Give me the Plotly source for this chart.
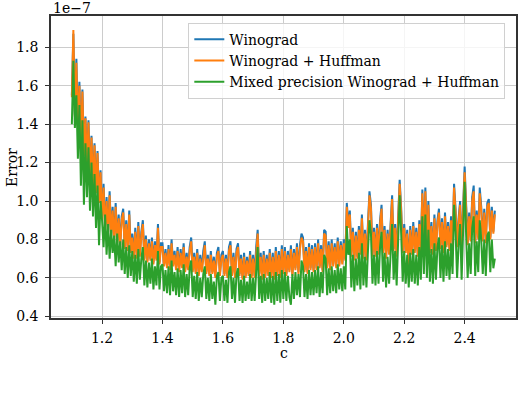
import numpy as np
import plotly.graph_objects as go

# error vs c, sampled every 0.005 from 1.1 to 2.5 (values in units of 1e-7)
winograd = [
    1.55, 1.87, 1.45, 1.74, 1.40, 1.62, 1.30, 1.58, 1.24, 1.44, 1.20, 1.42, 1.12, 1.34, 1.08, 1.30, 1.05, 1.26, 1.00, 1.16,
    0.92, 1.09, 0.86, 1.02, 0.84, 1.05, 0.83, 0.97, 0.80, 0.99, 0.79, 0.93, 0.77, 0.92, 0.96, 0.76, 0.90, 0.75, 0.95, 0.74,
    0.83, 0.72, 0.86, 0.71, 0.89, 0.72, 0.84, 0.90, 0.70, 0.82, 0.69, 0.80, 0.70, 0.81, 0.68, 0.79, 0.70, 0.88, 0.68, 0.78,
    0.78, 0.67, 0.75, 0.66, 0.77, 0.65, 0.80, 0.67, 0.74, 0.65, 0.76, 0.64, 0.75, 0.66, 0.78, 0.64, 0.73, 0.65, 0.76, 0.81,
    0.64, 0.73, 0.63, 0.75, 0.62, 0.72, 0.64, 0.74, 0.79, 0.63, 0.72, 0.62, 0.74, 0.63, 0.71, 0.61, 0.73, 0.76, 0.62, 0.72,
    0.74, 0.62, 0.72, 0.61, 0.76, 0.79, 0.62, 0.73, 0.61, 0.75, 0.78, 0.62, 0.72, 0.60, 0.73, 0.61, 0.71, 0.62, 0.74, 0.61,
    0.72, 0.61, 0.76, 0.85, 0.62, 0.73, 0.60, 0.74, 0.61, 0.72, 0.62, 0.75, 0.61, 0.73, 0.60, 0.76, 0.62, 0.74, 0.61, 0.77,
    0.63, 0.76, 0.62, 0.74, 0.64, 0.77, 0.62, 0.75, 0.65, 0.78, 0.63, 0.77, 0.83, 0.81, 0.64, 0.76, 0.63, 0.78, 0.65, 0.77,
    0.64, 0.78, 0.65, 0.80, 0.66, 0.77, 0.64, 0.85, 0.84, 0.66, 0.79, 0.65, 0.80, 0.67, 0.78, 0.66, 0.81, 0.67, 0.79, 0.68,
    0.80, 0.70, 0.99, 0.88, 0.95, 0.72, 0.86, 0.70, 0.84, 0.71, 0.87, 0.73, 0.93, 0.71, 0.85, 0.70, 0.88, 1.05, 0.98, 0.72,
    0.86, 0.72, 0.88, 0.73, 0.90, 0.98, 0.74, 0.87, 0.71, 0.85, 0.73, 0.89, 1.03, 0.75, 0.88, 0.72, 0.90, 1.11, 0.96, 0.74,
    0.88, 0.74, 0.85, 0.66, 0.87, 0.73, 0.89, 0.74, 0.86, 0.72, 0.90, 0.75, 1.06, 0.80, 1.07, 0.76, 1.00, 0.74, 0.89, 0.73,
    0.93, 0.75, 0.90, 0.96, 0.76, 0.91, 0.74, 0.94, 0.77, 0.89, 0.75, 0.92, 0.78, 1.09, 0.96, 0.77, 0.91, 1.00, 0.76, 0.93,
    1.18, 0.98, 0.78, 0.94, 0.80, 1.02, 1.08, 0.79, 0.95, 0.81, 1.07, 0.97, 0.80, 0.96, 0.79, 0.99, 1.01, 0.81, 0.97, 0.84,
    0.95,
]

winograd_huffman = [
    1.54, 1.89, 1.44, 1.72, 1.39, 1.60, 1.29, 1.57, 1.23, 1.43, 1.19, 1.41, 1.11, 1.33, 1.07, 1.29, 1.04, 1.25, 0.99, 1.15,
    0.90, 1.07, 0.85, 1.00, 0.83, 1.03, 0.82, 0.95, 0.79, 0.97, 0.78, 0.91, 0.76, 0.90, 0.94, 0.75, 0.88, 0.74, 0.93, 0.73,
    0.81, 0.70, 0.84, 0.70, 0.87, 0.71, 0.82, 0.88, 0.69, 0.80, 0.68, 0.78, 0.69, 0.79, 0.67, 0.77, 0.69, 0.86, 0.67, 0.76,
    0.76, 0.66, 0.73, 0.65, 0.75, 0.64, 0.78, 0.66, 0.72, 0.64, 0.74, 0.63, 0.73, 0.65, 0.76, 0.63, 0.71, 0.64, 0.74, 0.79,
    0.63, 0.71, 0.62, 0.73, 0.61, 0.70, 0.63, 0.72, 0.77, 0.62, 0.70, 0.61, 0.72, 0.62, 0.69, 0.60, 0.71, 0.74, 0.61, 0.70,
    0.72, 0.61, 0.70, 0.60, 0.74, 0.77, 0.61, 0.71, 0.60, 0.73, 0.76, 0.61, 0.70, 0.59, 0.71, 0.60, 0.69, 0.61, 0.72, 0.60,
    0.70, 0.60, 0.74, 0.83, 0.61, 0.71, 0.59, 0.72, 0.60, 0.70, 0.61, 0.73, 0.60, 0.71, 0.59, 0.74, 0.61, 0.72, 0.60, 0.75,
    0.62, 0.74, 0.61, 0.72, 0.63, 0.75, 0.61, 0.73, 0.64, 0.76, 0.62, 0.75, 0.81, 0.79, 0.63, 0.74, 0.62, 0.76, 0.64, 0.75,
    0.63, 0.76, 0.64, 0.78, 0.65, 0.75, 0.63, 0.83, 0.82, 0.65, 0.77, 0.64, 0.78, 0.66, 0.76, 0.65, 0.79, 0.66, 0.77, 0.67,
    0.78, 0.69, 0.97, 0.86, 0.93, 0.71, 0.84, 0.69, 0.82, 0.70, 0.85, 0.72, 0.91, 0.70, 0.83, 0.69, 0.86, 1.03, 0.96, 0.71,
    0.84, 0.71, 0.86, 0.72, 0.88, 0.96, 0.73, 0.85, 0.70, 0.83, 0.72, 0.87, 1.01, 0.74, 0.86, 0.71, 0.88, 1.09, 0.94, 0.73,
    0.86, 0.73, 0.83, 0.65, 0.85, 0.72, 0.87, 0.73, 0.84, 0.71, 0.88, 0.74, 1.04, 0.79, 1.05, 0.75, 0.98, 0.73, 0.87, 0.72,
    0.91, 0.74, 0.88, 0.94, 0.75, 0.89, 0.73, 0.92, 0.76, 0.87, 0.74, 0.90, 0.77, 1.07, 0.94, 0.76, 0.89, 0.98, 0.75, 0.91,
    1.15, 0.96, 0.77, 0.92, 0.79, 1.00, 1.05, 0.78, 0.93, 0.80, 1.04, 0.95, 0.79, 0.94, 0.78, 0.97, 0.99, 0.80, 0.95, 0.83,
    0.93,
]

mixed_huffman = [
    1.40, 1.73, 1.38, 1.55, 1.22, 1.50, 1.08, 1.42, 0.98, 1.30, 1.02, 1.28, 0.95, 1.20, 0.92, 1.14, 0.86, 1.08, 0.77, 1.00,
    0.90, 0.76, 0.93, 0.72, 0.88, 0.70, 0.85, 0.73, 0.82, 0.66, 0.83, 0.68, 0.79, 0.64, 0.80, 0.62, 0.76, 0.60, 0.77, 0.61,
    0.74, 0.58, 0.72, 0.57, 0.75, 0.59, 0.70, 0.76, 0.56, 0.69, 0.55, 0.68, 0.57, 0.70, 0.54, 0.66, 0.56, 0.74, 0.54, 0.66,
    0.67, 0.53, 0.64, 0.52, 0.66, 0.51, 0.69, 0.53, 0.63, 0.51, 0.65, 0.50, 0.64, 0.52, 0.67, 0.50, 0.62, 0.51, 0.65, 0.69,
    0.50, 0.61, 0.49, 0.63, 0.48, 0.60, 0.50, 0.62, 0.66, 0.49, 0.60, 0.48, 0.62, 0.49, 0.58, 0.46, 0.61, 0.63, 0.48, 0.60,
    0.61, 0.48, 0.59, 0.47, 0.63, 0.66, 0.49, 0.60, 0.47, 0.62, 0.65, 0.48, 0.59, 0.47, 0.61, 0.48, 0.58, 0.49, 0.62, 0.48,
    0.60, 0.48, 0.63, 0.76, 0.49, 0.61, 0.47, 0.62, 0.48, 0.60, 0.49, 0.63, 0.47, 0.61, 0.46, 0.63, 0.48, 0.62, 0.47, 0.64,
    0.49, 0.63, 0.48, 0.61, 0.50, 0.46, 0.62, 0.49, 0.63, 0.51, 0.62, 0.50, 0.69, 0.66, 0.50, 0.62, 0.49, 0.64, 0.51, 0.63,
    0.51, 0.64, 0.52, 0.66, 0.50, 0.63, 0.52, 0.72, 0.70, 0.51, 0.65, 0.52, 0.66, 0.53, 0.64, 0.52, 0.67, 0.54, 0.65, 0.53,
    0.66, 0.54, 0.87, 0.72, 0.80, 0.55, 0.72, 0.53, 0.70, 0.56, 0.73, 0.54, 0.78, 0.56, 0.71, 0.55, 0.74, 0.90, 0.83, 0.57,
    0.72, 0.56, 0.74, 0.57, 0.76, 0.84, 0.58, 0.73, 0.55, 0.71, 0.57, 0.75, 0.88, 0.59, 0.74, 0.56, 0.77, 1.03, 0.83, 0.58,
    0.74, 0.57, 0.72, 0.55, 0.73, 0.58, 0.75, 0.57, 0.72, 0.56, 0.76, 0.59, 0.92, 0.62, 0.93, 0.60, 0.85, 0.58, 0.75, 0.57,
    0.78, 0.59, 0.76, 0.81, 0.60, 0.77, 0.58, 0.79, 0.61, 0.75, 0.59, 0.78, 0.62, 0.98, 0.84, 0.60, 0.77, 0.88, 0.59, 0.80,
    1.10, 0.82, 0.60, 0.78, 0.62, 0.86, 0.92, 0.61, 0.79, 0.63, 0.90, 0.80, 0.62, 0.80, 0.61, 0.82, 0.84, 0.63, 0.80, 0.65,
    0.70,
]

c = np.linspace(1.1, 2.5, len(winograd))

FONT = 'DejaVu Serif'
series = [
    ('Winograd', winograd, '#1f77b4'),
    ('Winograd + Huffman', winograd_huffman, '#ff7f0e'),
    ('Mixed precision Winograd + Huffman', mixed_huffman, '#2ca02c'),
]

fig = go.Figure()
for name, vals, col in series:
    fig.add_trace(go.Scatter(x=c, y=vals, name=name, mode='lines',
                             line=dict(color=col, width=2)))

axis_style = dict(showline=True, linecolor='#333333', linewidth=1.5, mirror=True,
                  showgrid=True, gridcolor='#cccccc', gridwidth=1.2, automargin=False,
                  ticks='outside', ticklen=4, tickwidth=1.2, tickcolor='#333333',
                  zeroline=False, tickfont=dict(family=FONT, size=14, color='black'))

fig.update_xaxes(range=[1.031, 2.570], tickvals=[1.2, 1.4, 1.6, 1.8, 2.0, 2.2, 2.4],
                 ticktext=['1.2', '1.4', '1.6', '1.8', '2.0', '2.2', '2.4'],
                 ticklabelstandoff=2, **axis_style)
fig.update_yaxes(range=[0.391, 1.963], tickvals=[0.4, 0.6, 0.8, 1.0, 1.2, 1.4, 1.6, 1.8],
                 ticktext=['0.4', '0.6', '0.8', '1.0', '1.2', '1.4', '1.6', '1.8'],
                 ticklabelstandoff=4, **axis_style)

fig.update_layout(
    template='none',
    width=518, height=394,
    margin=dict(l=51, r=2, t=16, b=76),
    plot_bgcolor='white', paper_bgcolor='white',
    font=dict(family=FONT, size=14, color='black'),
    showlegend=True,
    legend=dict(x=0.977, y=0.978, xanchor='right', yanchor='top',
                bgcolor='rgba(255,255,255,0.8)', bordercolor='#d0d0d0', borderwidth=1,
                font=dict(family=FONT, size=14, color='black'), itemwidth=30,
                tracegroupgap=0),
    annotations=[
        dict(text='1e\u22127', xref='paper', yref='paper', x=0, y=1.027,
             xanchor='left', yanchor='middle', showarrow=False,
             font=dict(family=FONT, size=14)),
        dict(text='Error', xref='paper', yref='paper', x=-0.084, y=0.5,
             textangle=-90, xanchor='center', yanchor='middle', showarrow=False,
             font=dict(family=FONT, size=14)),
        dict(text='c', xref='paper', yref='paper', x=0.5, y=-0.116,
             xanchor='center', yanchor='middle', showarrow=False,
             font=dict(family=FONT, size=14)),
    ],
)

# drop the default page margin so the figure sits at the window's corner
fig.write_html('out.html', config={'displayModeBar': False},
               post_script="document.body.style.margin='0';")
